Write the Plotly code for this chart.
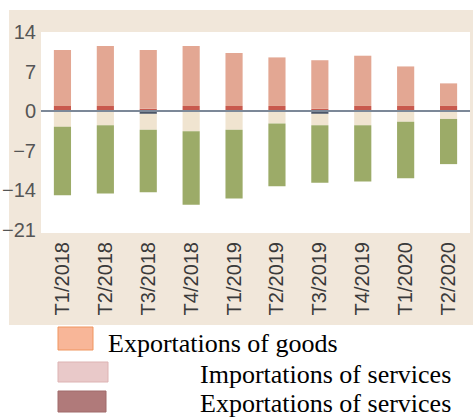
import plotly.graph_objects as go

categories = ["T1/2018", "T2/2018", "T3/2018", "T4/2018", "T1/2019",
              "T2/2019", "T3/2019", "T4/2019", "T1/2020", "T2/2020"]
exports_goods = [9.9, 10.6, 10.4, 10.6, 9.4, 8.6, 8.6, 8.9, 7.0, 4.0]
exports_services = [0.9, 0.9, 0.4, 0.9, 0.9, 0.9, 0.4, 0.9, 0.9, 0.9]
other_balance = [0, 0, -0.5, 0, 0, 0, -0.5, 0, 0, 0]
imports_services = [-2.8, -2.5, -2.8, -3.6, -3.3, -2.2, -2.0, -2.5, -1.9, -1.4]
imports_goods = [-12.1, -12.1, -11.1, -13.0, -12.2, -11.1, -10.2, -10.0, -10.0, -8.0]
y_ticks = [-21, -14, -7, 0, 7, 14]

W, H = 473, 417
L, R, T, B = 41, 3, 32, 184
PW, PH = W - L - R, H - T - B


def px(x):
    return (x - L) / PW


def py(y):
    return (H - B - y) / PH


fig = go.Figure()
fig.add_bar(x=categories, y=other_balance, marker_color="#4B5566", showlegend=False)
fig.add_bar(x=categories, y=exports_services, marker_color="#C8594D", showlegend=False)
fig.add_bar(x=categories, y=imports_services, marker_color="#F0E4D0", showlegend=False)
fig.add_bar(x=categories, y=exports_goods, marker_color="#E3A793", showlegend=False)
fig.add_bar(x=categories, y=imports_goods, marker_color="#9CAB68", showlegend=False)
fig.update_traces(marker_line_width=0)

shapes = [
    dict(type="rect", xref="paper", yref="paper", x0=px(9), x1=px(473), y0=py(325), y1=py(10),
         fillcolor="#F1E7DA", line_width=0, layer="below"),
    dict(type="rect", xref="paper", yref="paper", x0=0, x1=1, y0=0, y1=1,
         fillcolor="white", line_width=0, layer="below"),
    dict(type="line", xref="paper", yref="y", x0=0, x1=1, y0=0, y1=0,
         line=dict(color="#7C8898", width=2), layer="above"),
]

legend_items = [
    ("Exportations of goods", 58, 93, 327, 350, "#F8B698", "#F0955F", 106, 343),
    ("Importations of services", 58, 108, 362, 382, "#E9C9C9", "#DDB3B3", 198, 374),
    ("Exportations of services", 58, 106, 391, 412, "#B07A7A", "#A06A6A", 198, 403),
]
annotations = []
for label, x0, x1, y0, y1, fill, border, tx, ty in legend_items:
    shapes.append(dict(type="rect", xref="paper", yref="paper",
                       x0=px(x0), x1=px(x1), y0=py(y1), y1=py(y0),
                       fillcolor=fill, line=dict(color=border, width=1)))
    annotations.append(dict(text=label, xref="paper", yref="paper", x=px(tx), y=py(ty),
                            xanchor="left", yanchor="middle", showarrow=False,
                            font=dict(family="Liberation Serif, Times New Roman, serif",
                                      size=26, color="black")))

fig.update_layout(
    width=W, height=H,
    margin=dict(l=L, r=R, t=T, b=B),
    barmode="relative",
    bargap=0.6,
    paper_bgcolor="white",
    plot_bgcolor="white",
    shapes=shapes,
    annotations=annotations,
    showlegend=False,
    xaxis=dict(showgrid=False, ticks="", tickangle=-90, showline=False,
               tickfont=dict(family="Liberation Sans, Arial, sans-serif", size=20, color="#3A3A3A"),
               ticklabelstandoff=4),
    yaxis=dict(range=[-21.6, 14], tickvals=y_ticks, showgrid=False, zeroline=False,
               showline=False, ticks="",
               tickfont=dict(family="Liberation Sans Narrow, Arial Narrow, Liberation Sans, sans-serif",
                             size=20, color="#555555"),
               ticklabelstandoff=4),
)

fig.write_html("out.html")
